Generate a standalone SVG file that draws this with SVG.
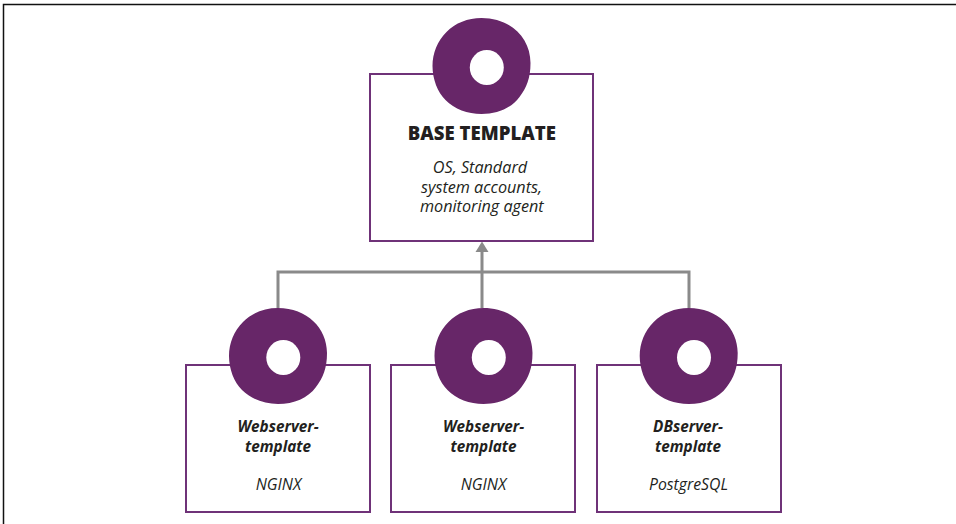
<svg xmlns="http://www.w3.org/2000/svg" width="956" height="524" viewBox="0 0 956 524">
<style>
.box{fill:#fff;stroke:#6f3278;stroke-width:2}
.blob{fill:#672668}
.hole{fill:#fff}
.line{fill:none;stroke:#8a8a8a;stroke-width:3}
text{font-family:"Open Sans","Noto Sans",sans-serif;fill:#231f20;text-anchor:middle}
.title{font-size:18.6px;font-weight:800}
.big{font-size:16.200px;font-style:italic}
.name{font-size:15.300px;font-weight:700;font-style:italic}
.desc{font-size:15.800px;font-style:italic}
</style>
<defs>
<g id="blob">
<path class="blob" d="M0-48C29-48 49-28 49-3C49 12 45 22 38 31C30 42 16 48 0 48C-14 48-27 43-36 34C-44 26-49 13-49 0C-49-13-44-25-35-34C-26-43-14-48 0-48Z"/>
<ellipse class="hole" cx="5.300" cy="1.500" rx="17" ry="17.500"/>
</g>
</defs>
<rect width="956" height="524" fill="#fff"/>
<path d="M3.500 524V4.500H956" fill="none" stroke="#111" stroke-width="1.500"/>
<g id="connectors">
<path class="line" d="M278 308V272H689V308M482 308V250"/>
<path d="M482 241.500L488.500 252H475.500Z" fill="#8a8a8a"/>
</g>
<g id="base-template">
<rect class="box" x="370" y="74" width="223" height="167"/>
<use href="#blob" x="481.500" y="66"/>
<text class="title" x="481.800" y="140">BASE TEMPLATE</text>
<text class="big" x="480" y="173">OS, Standard</text>
<text class="big" x="481.500" y="193">system accounts,</text>
<text class="big" x="481.800" y="212">monitoring agent</text>
</g>
<g id="webserver-template-1">
<rect class="box" x="186" y="365" width="184" height="147"/>
<use href="#blob" x="278" y="356"/>
<text class="name" x="278" y="432">Webserver-</text>
<text class="name" x="278" y="452">template</text>
<text class="desc" x="278.500" y="490">NGINX</text>
</g>
<g id="webserver-template-2">
<rect class="box" x="391" y="365" width="184" height="147"/>
<use href="#blob" x="483.500" y="356"/>
<text class="name" x="483.500" y="432">Webserver-</text>
<text class="name" x="483.500" y="452">template</text>
<text class="desc" x="483.500" y="490">NGINX</text>
</g>
<g id="dbserver-template">
<rect class="box" x="597" y="365" width="184" height="147"/>
<use href="#blob" x="688.700" y="356"/>
<text class="name" x="688" y="432">DBserver-</text>
<text class="name" x="688" y="452">template</text>
<text class="desc" x="688.500" y="490">PostgreSQL</text>
</g>
</svg>
